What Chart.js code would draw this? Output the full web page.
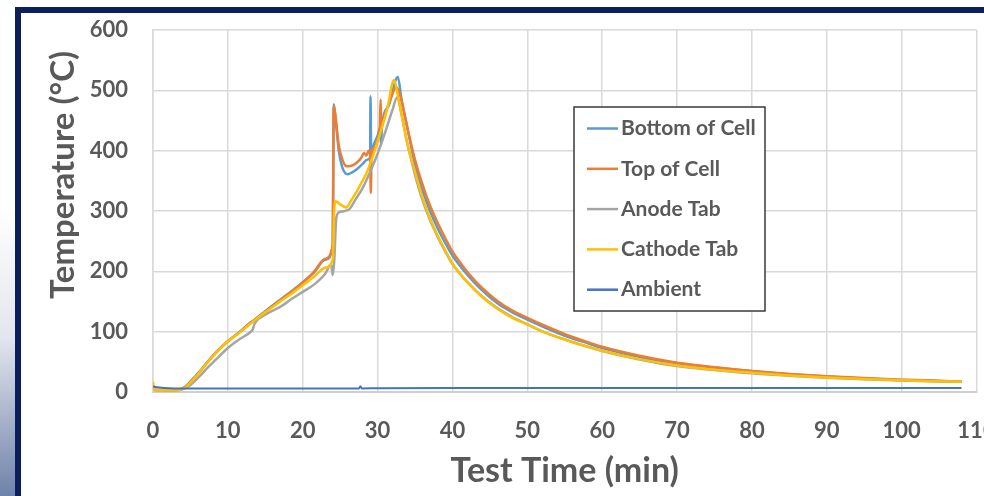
<!DOCTYPE html>
<html>
<head>
<meta charset="utf-8">
<title>Cell temperature during thermal runaway test</title>
<script src="https://cdn.jsdelivr.net/npm/chart.js@4.4.1/dist/chart.umd.min.js"></script>
<style>
  html, body { margin: 0; padding: 0; background: #ffffff; }
  #page { position: relative; width: 984px; height: 496px; overflow: hidden; background: #ffffff; }
  #strip { position: absolute; left: 0; top: 0; width: 15px; height: 496px;
           background: linear-gradient(to bottom, #ffffff 0%, #ffffff 42%, #e3e6ee 68%, #6f82a9 100%); }
  #frame { position: absolute; left: 15px; top: 7px; right: 0; bottom: 0;
           border-left: 6px solid #0b1f5c; border-top: 6px solid #0b1f5c; background: #ffffff; }
  #chart { position: absolute; left: 0; top: 0; }
</style>
</head>
<body>
<div id="page">
  <div id="strip"></div>
  <div id="frame"></div>
  <canvas id="chart" width="984" height="496"></canvas>
</div>
<script>
// Series: [test time (min), temperature (°C)]
const bottomOfCell = [
  [0,6],[0.4,3.5],[1,3.5],[2,3.5],[3,3.5],[3.8,5],[4.5,11],[5.4,23],[6.3,35],[7.2,49],[8.5,67],
  [10,84],[11.5,99],[13,115],[13.5,119],[15,134],[17,153],[18.5,167],[20,182],[21.5,198],[23,219],
  [24.0,240],[24.15,477],[24.4,450],[24.8,402],[25.3,372],[26.0,361],[26.6,364],[27.3,370],[28.0,378],
  [28.6,385],[29.0,388],[29.05,490],[29.15,395],[29.5,410],[30.0,425],[30.35,438],[30.45,409],[30.6,442],
  [31.5,475],[32.7,522],[33.2,485],[33.8,448],[34.4,412],[35,376],[36,334],[37,300],[38,272],[39,248],
  [40,226],[42,194],[44,168],[46,147],[48,132],[50,120],[52.5,106],[55,93],[57.5,83],[60,73],[65,58],
  [70,47.5],[75,40.5],[80,34.5],[85,29.5],[90,25.5],[95,22.5],[100,20],[104,18.5],[108,17]
];
const topOfCell = [
  [0,6],[0.4,3.5],[1,3.5],[2,3.5],[3,3.5],[3.8,5],[4.5,10],[5.4,22],[6.3,34],[7.2,48],[8.5,66],
  [10,84],[11.5,98],[13,114],[13.5,119],[15,133],[17,152],[18.5,166],[20,181],[21.5,199],[23,221],
  [24.0,243],[24.15,474],[24.4,455],[24.8,410],[25.3,385],[25.9,374],[26.5,375],[27.2,380],[27.8,388],
  [28.2,396],[28.5,392],[28.8,400],[29.0,395],[29.1,330],[29.2,398],[29.6,405],[30.0,420],[30.3,440],
  [30.4,485],[30.5,440],[31.0,460],[31.7,485],[32.5,505],[33.0,492],[33.6,460],[34.2,426],[35,385],
  [36,344],[37,309],[38,281],[39,256],[40,233],[42,199],[44,172],[46,151],[48,135],[50,123],[52.5,109],
  [55,96],[57.5,85],[60,75],[65,60],[70,48.5],[75,41],[80,35],[85,30],[90,26],[95,23],[100,20.5],[104,19],[108,17]
];
const anodeTab = [
  [0,5],[0.4,3],[1,3],[2,3],[3,3],[3.8,4],[4.5,7],[5.4,16],[6.3,27],[7.2,39],[8.5,55],[10,73],
  [11.5,87],[13,99],[13.3,103],[13.6,114],[15,128],[17,141],[18.5,154],[20,166],[21.5,178],[23,196],
  [23.8,212],[24.0,194],[24.2,215],[24.5,290],[24.9,298],[25.6,300],[26.3,304],[27.0,318],[28.0,338],
  [29.0,365],[30.0,395],[31.0,430],[32.0,468],[32.6,488],[33.2,460],[33.8,422],[34.4,390],[35,360],
  [36,318],[37,285],[38,258],[39,234],[40,212],[42,182],[44,158],[46,139],[48,124],[50,112],[52.5,98],
  [55,87],[57.5,77],[60,68],[65,54],[70,43],[75,36.5],[80,31],[85,27],[90,23.5],[95,21],[100,19],[104,18],[108,17]
];
const cathodeTab = [
  [0,17],[0.15,5],[0.4,3.5],[1,3],[2,3],[3,3],[3.8,4],[4.5,9],[5.4,21],[6.3,34],[7.2,48],[8.5,66],
  [10,84],[11.5,98],[13,113],[15,132],[17,150],[18.5,163],[20,177],[21.5,191],[23,206],[24.0,219],
  [24.2,300],[24.4,316],[25.0,311],[25.8,306],[26.5,318],[27.2,332],[27.8,346],[28.5,362],[29.2,385],
  [29.8,407],[30.5,435],[31.3,470],[32.2,517],[32.8,485],[33.4,448],[34,410],[35,365],[36,322],[37,288],
  [38,260],[39,236],[40,213],[42,182],[44,157],[46,138],[48,123],[50,112],[52.5,98],[55,87],[57.5,77],
  [60,68.5],[65,54.5],[70,44],[75,37],[80,32],[85,27.5],[90,24],[95,21.5],[100,19.5],[104,18],[108,17]
];
const ambient = [
  [0,9],[0.5,8],[1.5,6.5],[3,6],[6,6],[10,6],[15,5.8],[20,6],[25,6],[27.5,6],[27.7,9.5],[27.9,6],
  [30,6.2],[40,6.5],[50,6.5],[60,6.5],[70,6.5],[80,6.8],[90,6.8],[100,6.8],[108,6.8]
];

const seriesNames = ['Bottom of Cell', 'Top of Cell', 'Anode Tab', 'Cathode Tab', 'Ambient'];
const seriesData = [bottomOfCell, topOfCell, anodeTab, cathodeTab, ambient];
const seriesColors = ['#5B9BD5', '#ED7D31', '#A5A5A5', '#FFC000', '#4472C4'];

const xTicks = { min: 0, max: 110, step: 10 };
const yTicks = { min: 0, max: 600, step: 100 };

const TEXT = '#595959';
const GRID = '#d9d9d9';
const FONT = 'Lato';

// Boxed legend drawn inside the plot area, to the right of the peak
const boxedLegend = {
  id: 'boxedLegend',
  afterDatasetsDraw(chart) {
    const ctx = chart.ctx;
    const x = 574, y = 107, w = 191, h = 204;
    ctx.save();
    ctx.fillStyle = '#ffffff';
    ctx.fillRect(x, y, w, h);
    ctx.strokeStyle = '#3a3a3a';
    ctx.lineWidth = 1.5;
    ctx.strokeRect(x, y, w, h);
    ctx.font = `bold 21px ${FONT}`;
    ctx.textBaseline = 'middle';
    ctx.textAlign = 'left';
    chart.data.datasets.forEach((ds, i) => {
      const cy = 128.5 + i * 40.3;
      ctx.strokeStyle = ds.borderColor;
      ctx.lineWidth = 2.5;
      ctx.beginPath();
      ctx.moveTo(587, cy);
      ctx.lineTo(618, cy);
      ctx.stroke();
      ctx.fillStyle = TEXT;
      ctx.fillText(ds.label, 621, cy);
    });
    ctx.restore();
  }
};

// Vertical axis title, placed toward the top of the axis
const yAxisTitle = {
  id: 'yAxisTitle',
  afterDraw(chart) {
    const ctx = chart.ctx;
    ctx.save();
    ctx.translate(63, 175);
    ctx.rotate(-Math.PI / 2);
    ctx.font = `bold 33px ${FONT}`;
    ctx.fillStyle = TEXT;
    ctx.textAlign = 'center';
    ctx.textBaseline = 'middle';
    ctx.fillText('Temperature (°C)', 0, 0);
    ctx.restore();
  }
};

const datasets = seriesNames.map((name, i) => ({
  label: name,
  data: seriesData[i].map(([t, v]) => ({ x: t, y: v })),
  borderColor: seriesColors[i],
  backgroundColor: seriesColors[i],
  borderWidth: i === 4 ? 2 : 2.5,
  pointRadius: 0,
  fill: false,
  cubicInterpolationMode: 'monotone',
  order: seriesNames.length - i
}));

new Chart(document.getElementById('chart'), {
  type: 'line',
  data: { datasets },
  options: {
    responsive: false,
    animation: false,
    devicePixelRatio: 1,
    layout: { padding: { left: 0, right: 7.5, top: 30, bottom: 0 } },
    plugins: { legend: { display: false }, tooltip: { enabled: false } },
    scales: {
      x: {
        type: 'linear',
        min: xTicks.min,
        max: xTicks.max,
        ticks: { stepSize: xTicks.step, padding: 26, color: TEXT, maxRotation: 0, autoSkip: false,
                 font: { family: FONT, size: 22, weight: 'bold' } },
        grid: { color: GRID, lineWidth: 1.5, drawTicks: false },
        border: { color: '#cfcfcf', width: 2 },
        title: { display: true, text: 'Test Time (min)', color: TEXT,
                 font: { family: FONT, size: 34, weight: 'bold' }, padding: { top: 0, bottom: 5 } },
        afterFit(s) { s.height = 104; s.paddingLeft = 0; s.paddingRight = 0; }
      },
      y: {
        type: 'linear',
        min: yTicks.min,
        max: yTicks.max,
        ticks: { stepSize: yTicks.step, padding: 25, color: TEXT,
                 font: { family: FONT, size: 22, weight: 'bold' } },
        grid: { color: GRID, lineWidth: 1.5, drawTicks: false },
        border: { color: GRID, width: 1.5 },
        afterFit(s) { s.width = 153; s.paddingTop = 0; s.paddingBottom = 0; }
      }
    }
  },
  plugins: [boxedLegend, yAxisTitle]
});
</script>
</body>
</html>
